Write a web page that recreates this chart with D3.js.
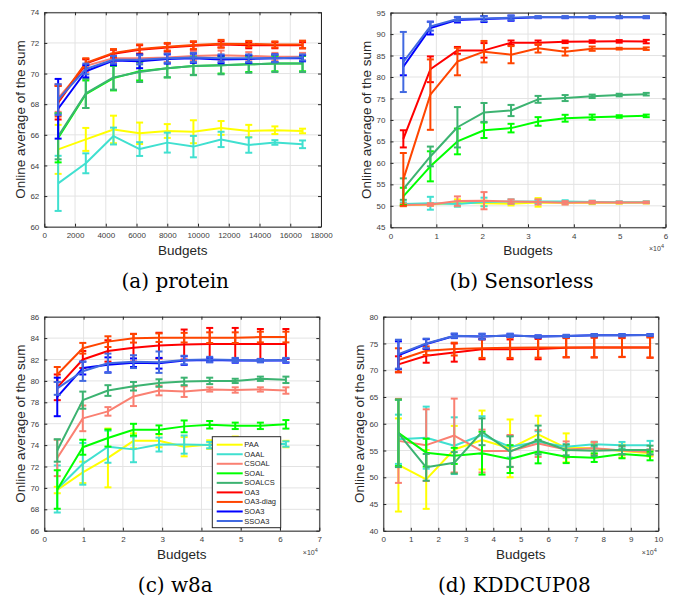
<!DOCTYPE html>
<html>
<head>
<meta charset="utf-8">
<script src="https://cdn.jsdelivr.net/npm/d3@7"></script>
<style>
  html, body { margin: 0; padding: 0; background: #fff; }
  svg { display: block; }
</style>
</head>
<body>
<script>
// ---------------- DATA ----------------
const seriesNames = ["PAA", "OAAL", "CSOAL", "SOAL", "SOALCS", "OA3", "OA3-diag", "SOA3", "SSOA3"];

// (a) protein — budgets
const proteinX = [900, 2700, 4500, 6200, 8000, 9700, 11500, 13300, 15000, 16800];
const proteinPAA      = [65.05, 65.7, 66.35, 66.1, 66.25, 66.2, 66.45, 66.25, 66.3, 66.25];
const proteinPAAErr   = [1.6, 0.75, 0.9, 0.7, 0.45, 0.75, 0.45, 0.4, 0.25, 0.15];
const proteinOAAL     = [62.83, 64.14, 65.92, 65.07, 65.49, 65.23, 65.7, 65.33, 65.5, 65.38];
const proteinOAALErr  = [1.8, 0.65, 0.55, 0.45, 0.65, 0.7, 0.5, 0.5, 0.15, 0.25];
const proteinCSOAL    = [68.4, 70.5, 71.0, 71.0, 71.05, 71.15, 71.2, 71.15, 71.1, 71.1];
const proteinCSOALErr = [0.9, 0.4, 0.3, 0.3, 0.3, 0.3, 0.3, 0.25, 0.25, 0.25];
const proteinSOAL     = [65.8, 68.65, 69.7, 70.15, 70.35, 70.5, 70.55, 70.6, 70.65, 70.65];
const proteinSOALErr  = [1.6, 0.9, 0.8, 0.6, 0.6, 0.6, 0.55, 0.5, 0.5, 0.5];
const proteinSOALCS   = [65.9, 68.7, 69.75, 70.1, 70.35, 70.5, 70.55, 70.6, 70.65, 70.65];
const proteinSOALCSErr= [1.5, 0.95, 0.8, 0.65, 0.6, 0.6, 0.6, 0.55, 0.55, 0.55];
const proteinOA3      = [68.1, 70.65, 71.3, 71.55, 71.7, 71.82, 71.9, 71.85, 71.85, 71.85];
const proteinOA3Err   = [1.1, 0.3, 0.25, 0.3, 0.25, 0.25, 0.2, 0.2, 0.2, 0.2];
const proteinOA3d     = [68.2, 70.7, 71.35, 71.6, 71.75, 71.86, 71.95, 71.93, 71.9, 71.9];
const proteinOA3dErr  = [1.0, 0.3, 0.25, 0.3, 0.25, 0.25, 0.25, 0.2, 0.2, 0.25];
const proteinSOA3     = [67.7, 70.15, 70.85, 70.8, 70.95, 71.0, 70.92, 70.95, 71.0, 71.0];
const proteinSOA3Err  = [1.95, 0.4, 0.3, 0.45, 0.3, 0.3, 0.25, 0.25, 0.25, 0.2];
const proteinSSOA3    = [68.3, 70.3, 70.9, 70.9, 71.0, 71.05, 71.0, 71.0, 71.0, 71.05];
const proteinSSOA3Err = [1.0, 0.35, 0.25, 0.3, 0.3, 0.3, 0.25, 0.25, 0.25, 0.2];

// (b) Sensorless — budgets in units of 10^4
const sensX = [0.28, 0.87, 1.46, 2.04, 2.63, 3.22, 3.81, 4.40, 4.99, 5.58];
const sensPAA      = [50.15, 50.3, 50.7, 50.6, 50.5, 50.8, 50.7, 50.7, 50.7, 50.75];
const sensPAAErr   = [0.2, 0.3, 0.8, 0.6, 0.4, 1.0, 0.3, 0.3, 0.2, 0.2];
const sensOAAL     = [50.4, 50.6, 50.4, 50.9, 51.0, 51.0, 51.0, 50.9, 50.85, 50.85];
const sensOAALErr  = [0.4, 1.5, 0.6, 1.0, 0.5, 0.4, 0.3, 0.3, 0.2, 0.2];
const sensCSOAL    = [50.2, 50.3, 51.1, 51.2, 51.0, 50.9, 50.7, 50.85, 50.8, 50.8];
const sensCSOALErr = [0.3, 0.3, 1.1, 2.0, 0.5, 0.6, 0.4, 0.3, 0.2, 0.2];
const sensSOAL     = [52.2, 59.2, 65.0, 67.6, 68.1, 69.65, 70.4, 70.65, 70.8, 70.95];
const sensSOALErr  = [2.0, 3.5, 3.0, 1.8, 1.0, 1.0, 0.8, 0.6, 0.3, 0.3];
const sensSOALCS   = [53.9, 61.5, 68.3, 71.75, 72.2, 74.8, 75.1, 75.5, 75.8, 76.0];
const sensSOALCSErr= [2.5, 2.3, 4.7, 2.2, 1.3, 0.8, 0.7, 0.4, 0.3, 0.3];
const sensOA3      = [65.6, 81.8, 86.2, 86.2, 88.0, 88.0, 88.2, 88.25, 88.3, 88.25];
const sensOA3Err   = [2.0, 3.0, 0.8, 1.7, 0.5, 0.5, 0.3, 0.3, 0.3, 0.4];
const sensOA3d     = [56.15, 75.9, 83.6, 85.9, 85.2, 86.7, 85.9, 86.6, 86.6, 86.6];
const sensOA3dErr  = [6.15, 8.2, 3.2, 2.5, 2.0, 1.0, 0.9, 0.5, 0.2, 0.3];
const sensSOA3     = [82.4, 91.4, 93.3, 93.5, 93.7, 93.9, 93.9, 93.9, 93.9, 93.9];
const sensSOA3Err  = [2.0, 1.5, 0.6, 0.7, 0.6, 0.2, 0.2, 0.2, 0.2, 0.2];
const sensSSOA3    = [83.5, 91.8, 93.5, 93.6, 93.8, 93.95, 93.95, 93.95, 93.95, 93.95];
const sensSSOA3Err = [7.0, 1.0, 0.5, 0.6, 0.5, 0.2, 0.2, 0.2, 0.2, 0.2];

// (c) w8a — budgets in units of 10^4
const w8aX = [0.33, 0.98, 1.62, 2.27, 2.92, 3.56, 4.21, 4.86, 5.50, 6.15];
const w8aPAA      = [69.8, 71.45, 72.8, 74.4, 74.4, 73.85, 74.05, 74.3, 74.2, 74.1];
const w8aPAAErr   = [0.3, 1.0, 2.75, 0.7, 0.6, 0.9, 0.4, 0.5, 0.4, 0.3];
const w8aOAAL     = [69.9, 72.25, 73.85, 73.6, 74.05, 74.05, 74.0, 74.1, 74.1, 74.1];
const w8aOAALErr  = [2.2, 1.95, 1.5, 1.2, 0.65, 0.85, 0.3, 0.3, 0.3, 0.25];
const w8aCSOAL    = [72.8, 76.5, 77.15, 78.55, 79.1, 79.0, 79.2, 79.15, 79.2, 79.1];
const w8aCSOALErr = [1.7, 1.2, 0.4, 0.9, 0.45, 0.5, 0.2, 0.25, 0.2, 0.3];
const w8aSOAL     = [69.85, 73.8, 74.66, 75.44, 75.44, 75.75, 75.9, 75.8, 75.8, 75.94];
const w8aSOALErr  = [1.8, 0.7, 0.8, 0.55, 0.4, 0.55, 0.35, 0.3, 0.3, 0.4];
const w8aSOALCS   = [73.5, 78.2, 79.1, 79.5, 79.8, 79.95, 80.0, 80.0, 80.2, 80.1];
const w8aSOALCSErr= [1.05, 0.8, 0.5, 0.4, 0.35, 0.35, 0.3, 0.2, 0.2, 0.3];
const w8aOA3      = [79.4, 82.0, 82.8, 83.1, 83.3, 83.4, 83.45, 83.45, 83.45, 83.45];
const w8aOA3Err   = [1.2, 0.8, 1.0, 1.3, 1.2, 1.4, 1.5, 1.5, 1.4, 1.4];
const w8aOA3d     = [80.6, 83.05, 83.67, 83.98, 84.04, 84.04, 84.04, 84.04, 84.1, 84.1];
const w8aOA3dErr  = [0.7, 0.5, 0.5, 0.4, 0.4, 0.45, 0.5, 0.5, 0.5, 0.5];
const w8aSOA3     = [78.5, 81.2, 81.5, 81.7, 81.65, 81.9, 81.95, 81.9, 81.9, 81.9];
const w8aSOA3Err  = [1.8, 0.6, 0.7, 0.4, 0.5, 0.4, 0.2, 0.2, 0.15, 0.2];
const w8aSSOA3    = [79.3, 80.9, 81.65, 81.8, 81.75, 81.95, 82.0, 81.95, 81.9, 81.95];
const w8aSSOA3Err = [0.6, 0.9, 0.9, 0.6, 1.0, 0.4, 0.25, 0.2, 0.15, 0.2];

// (d) KDDCUP08 — budgets in units of 10^4
const kddX = [0.55, 1.56, 2.58, 3.59, 4.61, 5.63, 6.65, 7.67, 8.68, 9.70];
const kddPAA      = [52.3, 49.6, 55.2, 56.96, 55.4, 58.0, 55.5, 55.4, 54.9, 54.5];
const kddPAAErr   = [8.7, 5.5, 4.4, 5.5, 5.4, 3.5, 2.7, 1.0, 1.2, 0.6];
const kddOAAL     = [57.1, 57.4, 55.9, 57.9, 55.7, 56.6, 55.7, 56.15, 56.0, 56.0];
const kddOAALErr  = [4.6, 5.8, 5.3, 3.5, 2.0, 2.0, 0.5, 0.5, 0.6, 0.8];
const kddCSOAL    = [56.8, 56.0, 57.8, 54.9, 54.9, 56.3, 55.2, 55.4, 55.0, 54.7];
const kddCSOALErr = [7.85, 6.7, 6.9, 4.0, 3.0, 2.5, 1.5, 1.2, 0.8, 0.5];
const kddSOAL     = [58.3, 54.6, 54.0, 54.5, 53.4, 54.8, 53.85, 53.66, 54.35, 53.97];
const kddSOALErr  = [6.2, 2.6, 1.5, 4.0, 2.6, 2.2, 1.2, 0.8, 0.8, 0.8];
const kddSOALCS   = [58.2, 51.86, 52.7, 58.5, 54.8, 56.96, 55.1, 54.97, 55.1, 55.1];
const kddSOALCSErr= [6.3, 2.5, 2.0, 2.5, 2.85, 2.7, 1.0, 1.0, 0.8, 0.8];
const kddOA3      = [71.1, 72.7, 73.3, 73.9, 73.9, 73.95, 74.2, 74.25, 74.25, 74.25];
const kddOA3Err   = [1.5, 1.3, 1.7, 1.85, 1.85, 1.9, 1.8, 1.85, 1.75, 1.9];
const kddOA3d     = [71.9, 73.65, 73.95, 74.1, 74.2, 74.25, 74.25, 74.25, 74.25, 74.25];
const kddOA3dErr  = [2.2, 0.8, 1.2, 1.8, 1.9, 1.9, 1.8, 1.85, 1.8, 1.9];
const kddSOA3     = [72.8, 74.9, 76.4, 76.3, 76.5, 76.3, 76.4, 76.55, 76.55, 76.6];
const kddSOA3Err  = [2.6, 0.9, 0.4, 0.5, 0.3, 0.2, 0.2, 0.2, 0.2, 0.15];
const kddSSOA3    = [73.0, 75.0, 76.45, 76.3, 76.5, 76.3, 76.4, 76.55, 76.55, 76.6];
const kddSSOA3Err = [2.7, 0.9, 0.4, 0.5, 0.3, 0.2, 0.2, 0.2, 0.2, 0.15];

// Tick labels
const proteinXTicks = [0, 2000, 4000, 6000, 8000, 10000, 12000, 14000, 16000, 18000];
const proteinYTicks = [60, 62, 64, 66, 68, 70, 72, 74];
const sensXTicks = [0, 1, 2, 3, 4, 5, 6];
const sensYTicks = [45, 50, 55, 60, 65, 70, 75, 80, 85, 90, 95];
const w8aXTicks = [0, 1, 2, 3, 4, 5, 6, 7];
const w8aYTicks = [66, 68, 70, 72, 74, 76, 78, 80, 82, 84, 86];
const kddXTicks = [0, 1, 2, 3, 4, 5, 6, 7, 8, 9, 10];
const kddYTicks = [40, 45, 50, 55, 60, 65, 70, 75, 80];

const subtitles = ["(a) protein", "(b) Sensorless", "(c) w8a", "(d) KDDCUP08"];

// ---------------- STYLE ----------------
const seriesColors = ["#ffff00", "#40e0d0", "#fa8072", "#00ff00", "#3cb371", "#ff0000", "#ff4500", "#0000ff", "#4169e1"];

const panels = [
  { left: 44.3, right: 321, top: 12.3, bottom: 226.7, xTicks: proteinXTicks, yTicks: proteinYTicks, xs: proteinX, exp: false,
    means: [proteinPAA, proteinOAAL, proteinCSOAL, proteinSOAL, proteinSOALCS, proteinOA3, proteinOA3d, proteinSOA3, proteinSSOA3],
    errs: [proteinPAAErr, proteinOAALErr, proteinCSOALErr, proteinSOALErr, proteinSOALCSErr, proteinOA3Err, proteinOA3dErr, proteinSOA3Err, proteinSSOA3Err],
    sub: subtitles[0], legend: false },
  { left: 390.5, right: 665.5, top: 12.6, bottom: 227.3, xTicks: sensXTicks, yTicks: sensYTicks, xs: sensX, exp: true,
    means: [sensPAA, sensOAAL, sensCSOAL, sensSOAL, sensSOALCS, sensOA3, sensOA3d, sensSOA3, sensSSOA3],
    errs: [sensPAAErr, sensOAALErr, sensCSOALErr, sensSOALErr, sensSOALCSErr, sensOA3Err, sensOA3dErr, sensSOA3Err, sensSSOA3Err],
    sub: subtitles[1], legend: false },
  { left: 44.3, right: 319.3, top: 316.7, bottom: 530.7, xTicks: w8aXTicks, yTicks: w8aYTicks, xs: w8aX, exp: true,
    means: [w8aPAA, w8aOAAL, w8aCSOAL, w8aSOAL, w8aSOALCS, w8aOA3, w8aOA3d, w8aSOA3, w8aSSOA3],
    errs: [w8aPAAErr, w8aOAALErr, w8aCSOALErr, w8aSOALErr, w8aSOALCSErr, w8aOA3Err, w8aOA3dErr, w8aSOA3Err, w8aSSOA3Err],
    sub: subtitles[2], legend: true },
  { left: 383.3, right: 658.3, top: 316.7, bottom: 530.8, xTicks: kddXTicks, yTicks: kddYTicks, xs: kddX, exp: true,
    means: [kddPAA, kddOAAL, kddCSOAL, kddSOAL, kddSOALCS, kddOA3, kddOA3d, kddSOA3, kddSSOA3],
    errs: [kddPAAErr, kddOAALErr, kddCSOALErr, kddSOALErr, kddSOALCSErr, kddOA3Err, kddOA3dErr, kddSOA3Err, kddSSOA3Err],
    sub: subtitles[3], legend: false }
];

const W = 683, H = 600;
const svg = d3.select("body").append("svg").attr("width", W).attr("height", H)
  .attr("font-family", "'Liberation Sans', Arial, Helvetica, sans-serif");
svg.append("rect").attr("width", W).attr("height", H).attr("fill", "#fff");

const axisColor = "#262626";
const tickColor = "#404040";
const gridColor = "#e3e3e3";
const TK = 3;

panels.forEach(p => {
  const x = d3.scaleLinear().domain(d3.extent(p.xTicks)).range([p.left, p.right]);
  const y = d3.scaleLinear().domain(d3.extent(p.yTicks)).range([p.bottom, p.top]);
  const g = svg.append("g");

  // grid
  const grid = g.append("g");
  grid.selectAll("line.gx").data(p.xTicks).join("line")
    .attr("x1", d => x(d)).attr("x2", d => x(d)).attr("y1", p.top).attr("y2", p.bottom)
    .attr("stroke", gridColor).attr("stroke-width", 1);
  grid.selectAll("line.gy").data(p.yTicks).join("line")
    .attr("y1", d => y(d)).attr("y2", d => y(d)).attr("x1", p.left).attr("x2", p.right)
    .attr("stroke", gridColor).attr("stroke-width", 1);

  // series
  const line = d3.line().x(d => x(d.x)).y(d => y(d.v));
  p.means.forEach((m, si) => {
    const col = seriesColors[si];
    const pts = m.map((v, i) => ({ x: p.xs[i], v: v, e: p.errs[si][i] }));
    const sg = g.append("g");
    sg.append("path").datum(pts).attr("d", line).attr("fill", "none")
      .attr("stroke", col).attr("stroke-width", 2).attr("stroke-linejoin", "round");
    const eb = sg.selectAll("g.eb").data(pts).join("g");
    eb.append("line").attr("x1", d => x(d.x)).attr("x2", d => x(d.x))
      .attr("y1", d => y(d.v - d.e)).attr("y2", d => y(d.v + d.e))
      .attr("stroke", col).attr("stroke-width", 2);
    eb.append("line").attr("x1", d => x(d.x) - 3.5).attr("x2", d => x(d.x) + 3.5)
      .attr("y1", d => y(d.v - d.e)).attr("y2", d => y(d.v - d.e))
      .attr("stroke", col).attr("stroke-width", 2);
    eb.append("line").attr("x1", d => x(d.x) - 3.5).attr("x2", d => x(d.x) + 3.5)
      .attr("y1", d => y(d.v + d.e)).attr("y2", d => y(d.v + d.e))
      .attr("stroke", col).attr("stroke-width", 2);
  });

  // axes
  const fmt = d => String(d);
  const ax = [
    g.append("g").attr("transform", `translate(0,${p.bottom})`)
      .call(d3.axisBottom(x).tickValues(p.xTicks).tickFormat(fmt).tickSizeInner(-TK).tickSizeOuter(0).tickPadding(6)),
    g.append("g").attr("transform", `translate(0,${p.top})`)
      .call(d3.axisTop(x).tickValues(p.xTicks).tickFormat("").tickSizeInner(-TK).tickSizeOuter(0)),
    g.append("g").attr("transform", `translate(${p.left},0)`)
      .call(d3.axisLeft(y).tickValues(p.yTicks).tickFormat(fmt).tickSizeInner(-TK).tickSizeOuter(0).tickPadding(5)),
    g.append("g").attr("transform", `translate(${p.right},0)`)
      .call(d3.axisRight(y).tickValues(p.yTicks).tickFormat("").tickSizeInner(-TK).tickSizeOuter(0))
  ];
  ax.forEach(a => {
    a.select(".domain").attr("stroke", axisColor).attr("stroke-width", 1);
    a.selectAll(".tick line").attr("stroke", axisColor);
    a.selectAll(".tick text").attr("fill", tickColor).attr("font-size", 8)
      .attr("font-family", "'Liberation Sans', Arial, sans-serif");
  });

  // axis labels
  g.append("text").attr("x", (p.left + p.right) / 2).attr("y", p.bottom + 28)
    .attr("text-anchor", "middle").attr("font-size", 13.5).attr("fill", axisColor).text("Budgets");
  g.append("text")
    .attr("transform", `translate(${p.left - 24},${(p.top + p.bottom) / 2}) rotate(-90)`)
    .attr("text-anchor", "middle").attr("dominant-baseline", "central")
    .attr("font-size", 13.5).attr("fill", axisColor).text("Online average of the sum");

  if (p.exp) {
    const t = g.append("text").attr("x", p.right - 9).attr("y", p.bottom + 24)
      .attr("text-anchor", "middle").attr("font-size", 7).attr("fill", tickColor);
    t.append("tspan").text("\u00d710");
    t.append("tspan").attr("dy", -3).attr("font-size", 5.5).text("4");
  }

  // subtitle
  g.append("text").attr("x", p.left + 131).attr("y", p.bottom + 61)
    .attr("text-anchor", "middle").attr("font-size", 20)
    .attr("font-family", "'DejaVu Serif', 'Liberation Serif', serif").attr("fill", "#000").text(p.sub);

  // legend
  if (p.legend) {
    const lx = 212.3, ly = 436.7, lw = 68.4, lh = 91;
    const lg = g.append("g");
    lg.append("rect").attr("x", lx).attr("y", ly).attr("width", lw).attr("height", lh)
      .attr("fill", "#fff").attr("stroke", axisColor).attr("stroke-width", 1);
    seriesNames.forEach((name, i) => {
      const yy = ly + 8 + i * 9.54;
      lg.append("line").attr("x1", lx + 4.4).attr("x2", lx + 30.4).attr("y1", yy).attr("y2", yy)
        .attr("stroke", seriesColors[i]).attr("stroke-width", 2);
      lg.append("text").attr("x", lx + 32).attr("y", yy).attr("dominant-baseline", "central")
        .attr("font-size", 7.5).attr("fill", axisColor).text(name);
    });
  }
});
</script>
</body>
</html>
